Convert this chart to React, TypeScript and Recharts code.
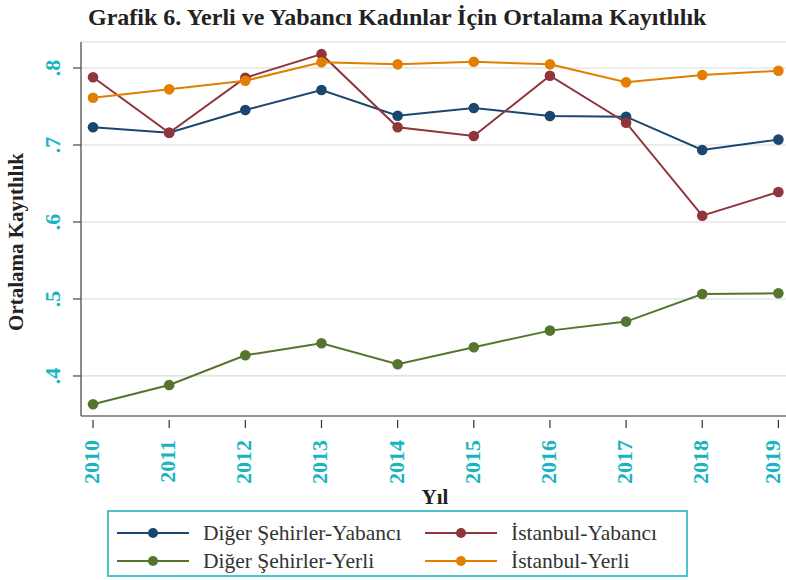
import React from 'react';
import { LineChart, Line, XAxis, YAxis, CartesianGrid, Legend } from 'recharts';

const years = [2010, 2011, 2012, 2013, 2014, 2015, 2016, 2017, 2018, 2019];
const digerYabanci = [0.723, 0.716, 0.7455, 0.7714, 0.738, 0.748, 0.7377, 0.7368, 0.6935, 0.707];
const istanbulYabanci = [0.788, 0.716, 0.7874, 0.818, 0.723, 0.7117, 0.79, 0.729, 0.6082, 0.639];
const digerYerli = [0.3633, 0.3883, 0.4269, 0.4425, 0.4152, 0.4373, 0.4589, 0.4706, 0.5065, 0.5074];
const istanbulYerli = [0.7614, 0.7723, 0.7835, 0.8074, 0.8048, 0.8082, 0.8048, 0.7814, 0.791, 0.7965];
const yTicks = [0.4, 0.5, 0.6, 0.7, 0.8];

// legend order (2 columns, filled row by row)
const series = [
  { key: 'digerYabanci', name: 'Diğer Şehirler-Yabancı', color: '#1a476f' },
  { key: 'istanbulYabanci', name: 'İstanbul-Yabancı', color: '#90353b' },
  { key: 'digerYerli', name: 'Diğer Şehirler-Yerli', color: '#55752f' },
  { key: 'istanbulYerli', name: 'İstanbul-Yerli', color: '#e37e00' },
];

const data = years.map((year, i) => ({
  year,
  digerYabanci: digerYabanci[i],
  istanbulYabanci: istanbulYabanci[i],
  digerYerli: digerYerli[i],
  istanbulYerli: istanbulYerli[i],
}));

const W = 786;
const H = 580;
const SERIF = '"Liberation Serif", "Times New Roman", serif';
const CYAN = '#17b4c1';

const XTick = (props: any) => {
  const { x, y, payload } = props;
  // keep the last rotated label inside the picture
  const tx = Math.min(x + 6, W - 6);
  const ty = y + 24;
  return (
    <g>
      <line x1={x} x2={x} y1={y + 4} y2={y + 12} stroke="#333" strokeWidth={1.2} />
      <text
        x={tx}
        y={ty}
        transform={`rotate(-90 ${tx} ${ty})`}
        textAnchor="end"
        fill={CYAN}
        fontFamily={SERIF}
        fontWeight="bold"
        fontSize={22}
      >
        {payload.value}
      </text>
    </g>
  );
};

const YTick = (props: any) => {
  const { x, y, payload } = props;
  const tx = x - 21;
  return (
    <g>
      <line x1={x - 8} x2={x} y1={y} y2={y} stroke="#444" strokeWidth={1.2} />
      <text
        x={tx}
        y={y}
        transform={`rotate(-90 ${tx} ${y})`}
        textAnchor="middle"
        fill={CYAN}
        fontFamily={SERIF}
        fontWeight="bold"
        fontSize={22}
      >
        {Number(payload.value).toFixed(1).replace(/^0/, '')}
      </text>
    </g>
  );
};

// custom legend: fixed series order, 2 columns
const LegendBox = () => (
  <div
    style={{
      boxSizing: 'border-box',
      width: 581,
      height: 67,
      border: '2px solid #4cc4cc',
      padding: '7px 0 0 8px',
      display: 'grid',
      gridTemplateColumns: '308px 1fr',
      gridAutoRows: '28px',
      fontFamily: SERIF,
      fontSize: 21.5,
      color: '#333',
    }}
  >
    {series.map((s) => (
      <div key={s.key} style={{ display: 'flex', alignItems: 'center' }}>
        <svg width={72} height={14} style={{ marginRight: 14, flex: 'none' }}>
          <line x1={0} x2={72} y1={7} y2={7} stroke={s.color} strokeWidth={2} />
          <circle cx={36} cy={7} r={5} fill={s.color} />
        </svg>
        <span style={{ whiteSpace: 'nowrap' }}>{s.name}</span>
      </div>
    ))}
  </div>
);

export default function App() {
  return (
    <div style={{ position: 'absolute', left: 0, top: 0, width: W, height: H, background: '#fff' }}>
      <div
        style={{
          position: 'absolute',
          left: 88,
          top: 5,
          fontFamily: SERIF,
          fontWeight: 'bold',
          fontSize: 24,
          lineHeight: '24px',
          color: '#222',
          whiteSpace: 'nowrap',
        }}
      >
        Grafik 6. Yerli ve Yabancı Kadınlar İçin Ortalama Kayıtlılık
      </div>
      <LineChart width={W} height={H} data={data} margin={{ top: 42, right: 0, left: 0, bottom: 0 }}>
        <CartesianGrid vertical={false} stroke="#d9d9d9" strokeWidth={1.2} />
        <XAxis
          dataKey="year"
          type="number"
          domain={[2009.842, 2019.1]}
          ticks={years}
          allowDataOverflow
          height={164}
          tickSize={0}
          tickMargin={0}
          tickLine={false}
          axisLine={{ stroke: '#777', strokeWidth: 1.5 }}
          tick={<XTick />}
          interval={0}
          label={{
            content: (p: any) => {
              const vb = p.viewBox;
              return (
                <text
                  x={435}
                  y={vb.y + 88}
                  textAnchor="middle"
                  fontFamily={SERIF}
                  fontWeight="bold"
                  fontSize={21}
                  fill="#222"
                >
                  Yıl
                </text>
              );
            },
          }}
        />
        <YAxis
          type="number"
          domain={[0.348, 0.8338]}
          ticks={yTicks}
          allowDataOverflow
          width={81}
          tickSize={0}
          tickMargin={0}
          tickLine={false}
          axisLine={{ stroke: '#666', strokeWidth: 1.5 }}
          tick={<YTick />}
          interval={0}
          label={{
            content: (p: any) => {
              const vb = p.viewBox;
              const lx = 23;
              const ly = vb.y + vb.height / 2 + 13;
              return (
                <text
                  x={lx}
                  y={ly}
                  transform={`rotate(-90 ${lx} ${ly})`}
                  textAnchor="middle"
                  fontFamily={SERIF}
                  fontWeight="bold"
                  fontSize={21}
                  fill="#222"
                >
                  Ortalama Kayıtlılık
                </text>
              );
            },
          }}
        />
        <Legend
          layout="horizontal"
          verticalAlign="middle"
          align="center"
          content={<LegendBox />}
          wrapperStyle={{ left: 107, top: 510, width: 581, height: 67 }}
        />
        {series.map((s) => (
          <Line
            key={s.key}
            type="linear"
            dataKey={s.key}
            name={s.name}
            stroke={s.color}
            strokeWidth={2}
            dot={{ r: 5.3, fill: s.color, stroke: s.color, strokeWidth: 0 }}
            activeDot={false}
            isAnimationActive={false}
          />
        ))}
      </LineChart>
    </div>
  );
}
